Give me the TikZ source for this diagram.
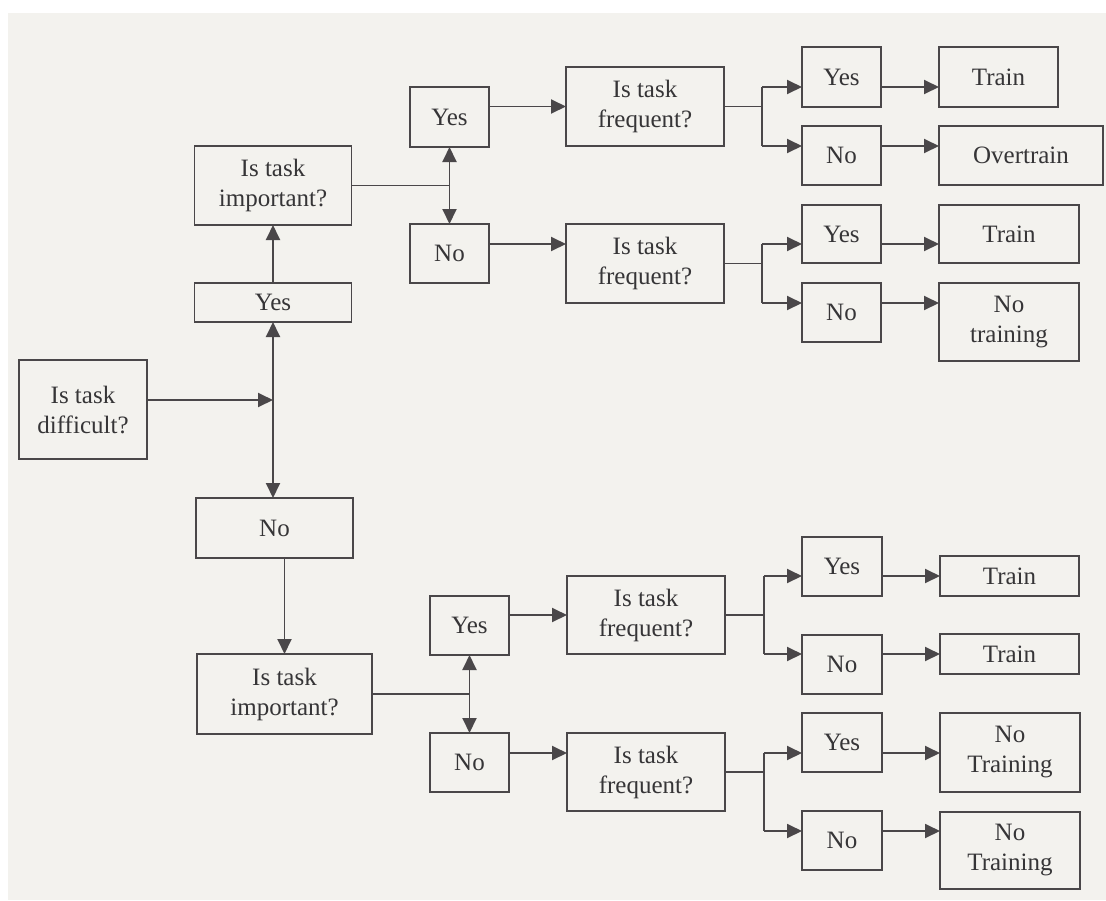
\documentclass[tikz,border=0pt]{standalone}
\usepackage{fontspec}
\setmainfont{Liberation Serif}
\usetikzlibrary{arrows.meta,calc}
\definecolor{paper}{HTML}{F3F2EE}
\definecolor{ink}{HTML}{4A4749}
\definecolor{txt}{HTML}{363537}
\begin{document}
\begin{tikzpicture}[x=1pt,y=-1pt,
  box/.style={draw=ink, line width=1.9pt, inner sep=0pt, outer sep=0pt,
    align=center, text=txt, font=\fontsize{25}{30}\selectfont},
  link/.style={draw=ink, line width=1.9pt},
  arr/.style={link, -{Triangle[length=15pt,width=14pt]}},
]
\useasboundingbox (0,0) rectangle (1106,900);
\fill[white] (0,0) rectangle (1106,900);
\fill[paper] (8,13) rectangle (1106,900);

% first question and its two answers
\node[box, minimum width=128pt, minimum height=99pt] (diff) at (83,409.5) {Is task\\difficult?};
\node[box, minimum width=157pt, minimum height=79pt] (impA) at (273,185.5) {Is task\\important?};
\node[box, minimum width=157pt, minimum height=39pt] (yesL) at (273,302.5) {Yes};
\node[box, minimum width=157pt, minimum height=60pt] (noL) at (274.5,528) {No};
\node[box, minimum width=175pt, minimum height=80pt] (impB) at (284.5,694) {Is task\\important?};

% answers to importance
\node[box, minimum width=79pt, minimum height=60pt] (yesA) at (449.5,117) {Yes};
\node[box, minimum width=79pt, minimum height=59pt] (noA) at (449.5,253.5) {No};
\node[box, minimum width=79pt, minimum height=59pt] (yesB) at (469.5,625.5) {Yes};
\node[box, minimum width=79pt, minimum height=59pt] (noB) at (469.5,762.5) {No};

% frequency questions
\node[box, minimum width=158pt, minimum height=79pt] (fq1) at (645,106.5) {Is task\\frequent?};
\node[box, minimum width=158pt, minimum height=79pt] (fq2) at (645,263.5) {Is task\\frequent?};
\node[box, minimum width=158pt, minimum height=78pt] (fq3) at (646,615) {Is task\\frequent?};
\node[box, minimum width=158pt, minimum height=78pt] (fq4) at (646,772) {Is task\\frequent?};

% answers to frequency
\node[box, minimum width=79pt, minimum height=60pt] (r1y) at (841.5,77) {Yes};
\node[box, minimum width=79pt, minimum height=59pt] (r1n) at (841.5,155.5) {No};
\node[box, minimum width=79pt, minimum height=58pt] (r2y) at (841.5,234) {Yes};
\node[box, minimum width=79pt, minimum height=59pt] (r2n) at (841.5,312.5) {No};
\node[box, minimum width=80pt, minimum height=59pt] (r3y) at (842,566.5) {Yes};
\node[box, minimum width=80pt, minimum height=59pt] (r3n) at (842,664.5) {No};
\node[box, minimum width=80pt, minimum height=59pt] (r4y) at (842,742.5) {Yes};
\node[box, minimum width=80pt, minimum height=59pt] (r4n) at (842,840.5) {No};

% outcomes
\node[box, minimum width=119pt, minimum height=60pt] (t1) at (998.5,77) {Train};
\node[box, minimum width=164pt, minimum height=59pt] (t2) at (1021,155.5) {Overtrain};
\node[box, minimum width=140pt, minimum height=58pt] (t3) at (1009,234) {Train};
\node[box, minimum width=140pt, minimum height=78pt] (t4) at (1009,322) {No\\training};
\node[box, minimum width=139pt, minimum height=40pt] (t5) at (1009.5,576) {Train};
\node[box, minimum width=139pt, minimum height=40pt] (t6) at (1009.5,654) {Train};
\node[box, minimum width=140pt, minimum height=79pt] (t7) at (1010,752.5) {No\\Training};
\node[box, minimum width=140pt, minimum height=77pt] (t8) at (1010,850.5) {No\\Training};

% junction points
\coordinate (jL) at (273,400);
\coordinate (jA) at (449.5,185.5);
\coordinate (jB) at (469.5,694);
\coordinate (f1u) at (762,87);   \coordinate (f1d) at (762,146);
\coordinate (f2u) at (762,244);  \coordinate (f2d) at (762,303);
\coordinate (f3u) at (764,576);  \coordinate (f3d) at (764,654);
\coordinate (f4u) at (764,753);  \coordinate (f4d) at (764,831);

% difficulty branch
\draw[arr] (diff.east |- jL) -- (jL);
\draw[arr] (jL) -- (yesL.south);
\draw[arr] (yesL.north) -- (impA.south);
\draw[arr] (jL) -- (jL |- noL.north);
\draw[arr] (impB.north |- noL.south) -- (impB.north);

% importance branches
\draw[link] (impA.east) -- (jA);
\draw[arr] (jA) -- (yesA.south);
\draw[arr] (jA) -- (noA.north);
\draw[link] (impB.east) -- (jB);
\draw[arr] (jB) -- (yesB.south);
\draw[arr] (jB) -- (noB.north);

\draw[arr] (yesA.east |- fq1.west) -- (fq1.west);
\draw[arr] (noA.east |- f2u) -- (fq2.west |- f2u);
\draw[arr] (yesB.east |- fq3.west) -- (fq3.west);
\draw[arr] (noB.east |- f4u) -- (fq4.west |- f4u);

% frequency forks
\foreach \q/\u/\d/\y/\n/\ty/\tn in {fq1/f1u/f1d/r1y/r1n/t1/t2, fq2/f2u/f2d/r2y/r2n/t3/t4,
                                   fq3/f3u/f3d/r3y/r3n/t5/t6, fq4/f4u/f4d/r4y/r4n/t7/t8}{
  \draw[link] (\q.east) -- (\q.east -| \u);
  \draw[link] (\u) -- (\d);
  \draw[arr] (\u) -- (\u -| \y.west);
  \draw[arr] (\d) -- (\d -| \n.west);
  \draw[arr] (\y.east |- \u) -- (\ty.west |- \u);
  \draw[arr] (\n.east |- \d) -- (\tn.west |- \d);
}
\end{tikzpicture}
\end{document}
